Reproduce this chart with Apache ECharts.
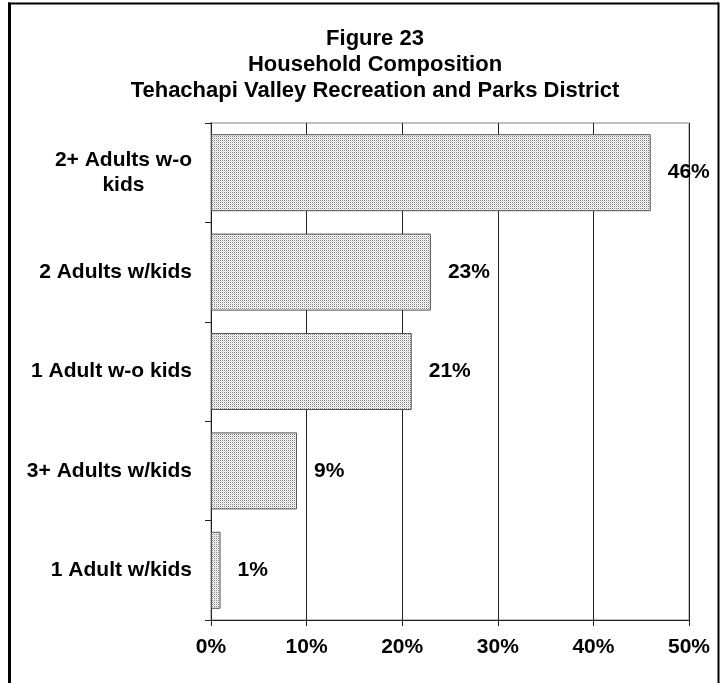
<!DOCTYPE html>
<html>
<head>
<meta charset="utf-8">
<script src="https://cdn.jsdelivr.net/npm/echarts@6/dist/echarts.min.js"></script>
<style>
html,body{margin:0;padding:0;background:#fff;}
#chart{width:722px;height:683px;}
</style>
</head>
<body>
<div id="chart"></div>
<script>
var titleLines = ['Figure 23', 'Household Composition', 'Tehachapi Valley Recreation and Parks District'];
var categories = ['2+ Adults w-o\nkids', '2 Adults w/kids', '1 Adult w-o kids', '3+ Adults w/kids', '1 Adult w/kids'];
var values = [46, 23, 21, 9, 1];
var xTicks = [0, 10, 20, 30, 40, 50];

// dotted pattern fill
var pc = document.createElement('canvas');
pc.width = 2; pc.height = 2;
var pctx = pc.getContext('2d');
pctx.fillStyle = '#ffffff'; pctx.fillRect(0, 0, 2, 2);
pctx.fillStyle = '#808080'; pctx.fillRect(0, 0, 1, 1);
pctx.fillStyle = '#d4d4d4'; pctx.fillRect(1, 1, 1, 1);

var FONT = 'Liberation Sans, Arial, sans-serif';
var chart = echarts.init(document.getElementById('chart'), null, {renderer: 'canvas'});
chart.setOption({
  backgroundColor: '#fff',
  animation: false,
  title: {
    text: titleLines.join('\n'),
    left: 370, top: 21, textAlign: 'center',
    textStyle: {fontFamily: FONT, fontWeight: 'bold', fontSize: 22, lineHeight: 26, color: '#000'}
  },
  graphic: [
    {type: 'line', shape: {x1: 9.5, y1: 2.5, x2: 9.5, y2: 690}, style: {stroke: '#000', lineWidth: 3}},
    {type: 'line', shape: {x1: 8, y1: 3.5, x2: 719, y2: 3.5}, style: {stroke: '#000', lineWidth: 2}},
    {type: 'line', shape: {x1: 718.5, y1: 2.5, x2: 718.5, y2: 690}, style: {stroke: '#000', lineWidth: 2}}
  ],
  grid: {left: 211, right: 33, top: 123, bottom: 63, show: true, borderColor: '#c0c0c0', borderWidth: 2, backgroundColor: 'transparent'},
  xAxis: {
    type: 'value', min: xTicks[0], max: xTicks[xTicks.length - 1], interval: 10,
    axisLine: {show: true, lineStyle: {color: '#222', width: 1}},
    axisTick: {show: true, length: 6, lineStyle: {color: '#222'}},
    splitLine: {show: true, lineStyle: {color: '#222', width: 1}},
    axisLabel: {margin: 17, formatter: '{value}%', fontFamily: FONT, fontWeight: 'bold', fontSize: 21, color: '#000'}
  },
  yAxis: {
    type: 'category', data: categories, inverse: true,
    axisLine: {show: true, lineStyle: {color: '#222', width: 1}},
    axisTick: {show: true, length: 6, lineStyle: {color: '#222'}},
    axisLabel: {
      margin: 19, align: 'right', fontFamily: FONT, fontWeight: 'bold', fontSize: 21, color: '#000', lineHeight: 25,
      formatter: function (v) {
        return v.split('\n').map(function (s) { return '{c|' + s + '}'; }).join('\n');
      },
      rich: {c: {align: 'center', fontFamily: FONT, fontWeight: 'bold', fontSize: 21, color: '#000', lineHeight: 25}}
    }
  },
  series: [{
    type: 'bar', data: values, barCategoryGap: '22.5%',
    itemStyle: {color: {image: pc, repeat: 'repeat'}, borderColor: '#555', borderWidth: 1},
    label: {show: true, position: 'right', distance: 17, formatter: '{c}%', fontFamily: FONT, fontWeight: 'bold', fontSize: 21, color: '#000'}
  }]
});
</script>
</body>
</html>
